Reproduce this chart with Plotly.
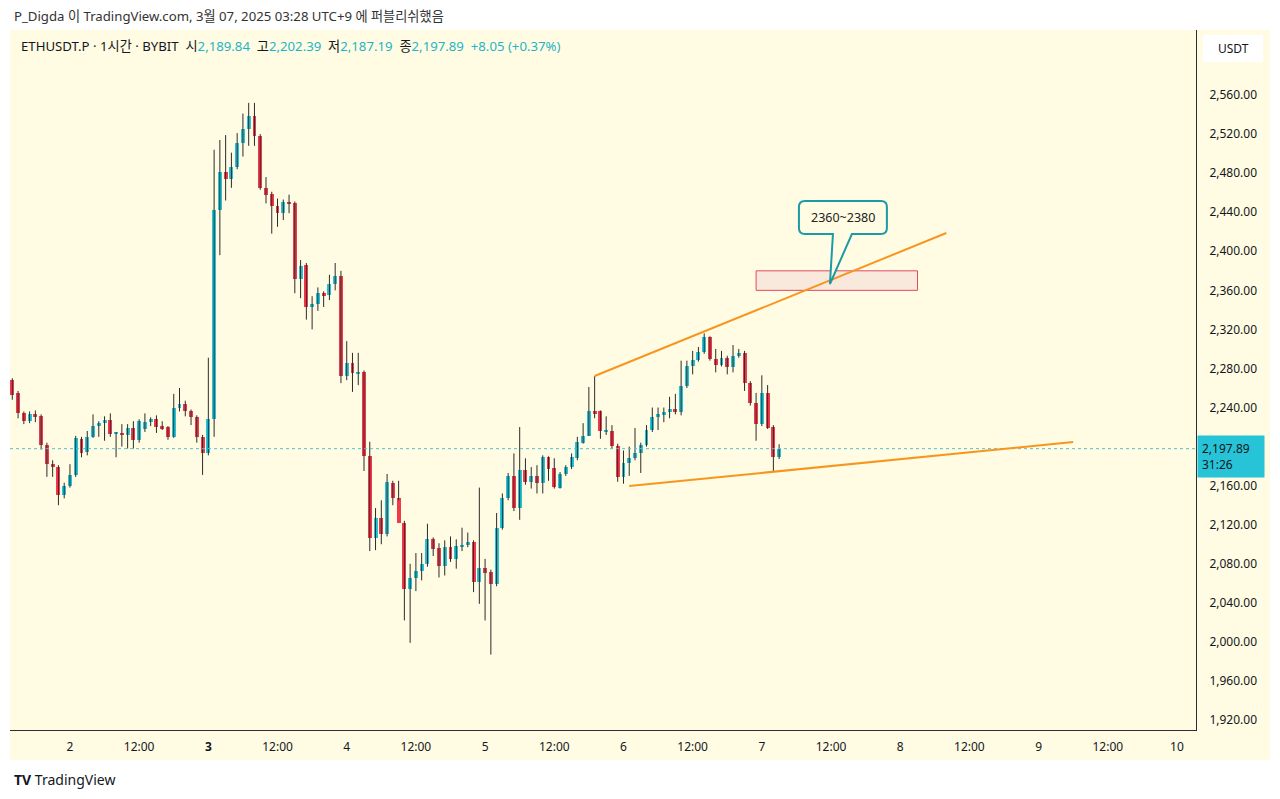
import plotly.graph_objects as go

# ---------------- data (ETHUSDT.P, 1h, BYBIT) ----------------
# candle position: hours since 2025-03-02 00:00 (UTC+9); first candle = Mar 1 14:00
hours = list(range(-10, 124))

opens = [2268, 2255, 2234, 2226, 2233, 2231, 2202, 2182, 2179, 2150,
         2160, 2171, 2208, 2194, 2210, 2221, 2224, 2227, 2213, 2214,
         2212, 2219, 2207, 2218, 2225, 2228, 2221, 2220, 2210, 2240,
         2244, 2236, 2230, 2210, 2193, 2228, 2442, 2481, 2474, 2486,
         2511, 2525, 2539, 2518, 2465, 2459, 2446, 2439, 2450, 2449,
         2372, 2386, 2343, 2346, 2357, 2355, 2366, 2375, 2272, 2286,
         2275, 2276, 2190, 2106, 2127, 2110, 2163, 2147, 2122, 2054,
         2065, 2073, 2080, 2105, 2096, 2078, 2097, 2085, 2098, 2099,
         2102, 2061, 2076, 2072, 2059, 2117, 2147, 2170, 2137, 2176,
         2164, 2170, 2163, 2189, 2178, 2158, 2172, 2179, 2188, 2204,
         2211, 2236, 2236, 2215, 2216, 2201, 2169, 2183, 2188, 2193,
         2202, 2217, 2230, 2233, 2235, 2239, 2235, 2262, 2283, 2289,
         2297, 2312, 2290, 2284, 2291, 2282, 2293, 2296, 2265, 2245,
         2223, 2255, 2220, 2189.84]
highs = [2270, 2257, 2236, 2236, 2237, 2233, 2204, 2186, 2181, 2163,
         2182, 2211, 2210, 2216, 2233, 2226, 2231, 2234, 2215, 2223,
         2223, 2226, 2228, 2234, 2230, 2232, 2226, 2221, 2254, 2260,
         2247, 2238, 2232, 2212, 2291, 2504, 2514, 2519, 2501, 2521,
         2541, 2552, 2552, 2520, 2476, 2461, 2454, 2453, 2458, 2451,
         2391, 2388, 2354, 2363, 2359, 2376, 2388, 2380, 2308, 2296,
         2296, 2278, 2205, 2137, 2145, 2172, 2165, 2165, 2124, 2080,
         2091, 2091, 2121, 2107, 2101, 2104, 2108, 2105, 2117, 2112,
         2104, 2158, 2085, 2074, 2132, 2152, 2173, 2193, 2220, 2188,
         2179, 2181, 2191, 2190, 2188, 2174, 2181, 2193, 2210, 2224,
         2261, 2272, 2237, 2231, 2222, 2203, 2196, 2200, 2219, 2204,
         2222, 2240, 2240, 2240, 2251, 2254, 2288, 2288, 2298, 2302,
         2316, 2313, 2300, 2298, 2293, 2304, 2300, 2298, 2267, 2255,
         2273, 2263, 2222, 2202.39]
lows = [2248, 2229, 2223, 2224, 2225, 2197, 2169, 2169, 2140, 2147,
        2158, 2169, 2189, 2191, 2209, 2210, 2206, 2210, 2189, 2200,
        2198, 2198, 2204, 2215, 2221, 2214, 2217, 2207, 2209, 2236,
        2231, 2222, 2204, 2171, 2191, 2210, 2396, 2452, 2465, 2484,
        2497, 2508, 2508, 2463, 2449, 2418, 2425, 2432, 2439, 2357,
        2352, 2330, 2320, 2339, 2343, 2350, 2360, 2265, 2268, 2256,
        2263, 2175, 2093, 2094, 2100, 2108, 2140, 2145, 2022, 1999,
        2052, 2063, 2077, 2088, 2066, 2068, 2082, 2075, 2093, 2097,
        2051, 2039, 2022, 1987, 2057, 2115, 2145, 2134, 2125, 2161,
        2157, 2152, 2152, 2165, 2157, 2157, 2170, 2177, 2186, 2203,
        2211, 2229, 2208, 2212, 2198, 2164, 2162, 2170, 2186, 2173,
        2200, 2215, 2217, 2225, 2229, 2233, 2232, 2260, 2274, 2287,
        2295, 2288, 2276, 2282, 2274, 2276, 2291, 2257, 2242, 2206,
        2221, 2218, 2174, 2187.19]
closes = [2253, 2234, 2226, 2233, 2230, 2202, 2182, 2179, 2150, 2160,
          2171, 2209, 2193, 2210, 2221, 2224, 2227, 2213, 2214, 2212,
          2219, 2207, 2226, 2225, 2228, 2220, 2219, 2210, 2240, 2244,
          2236, 2230, 2210, 2193, 2228, 2442, 2481, 2474, 2486, 2511,
          2525, 2539, 2518, 2465, 2458, 2446, 2439, 2450, 2449, 2372,
          2385, 2343, 2346, 2357, 2355, 2366, 2375, 2272, 2286, 2275,
          2276, 2190, 2106, 2127, 2110, 2164, 2147, 2122, 2054, 2065,
          2073, 2080, 2105, 2095, 2078, 2097, 2085, 2098, 2099, 2102,
          2061, 2076, 2071, 2059, 2117, 2147, 2170, 2137, 2176, 2164,
          2170, 2163, 2189, 2177, 2159, 2172, 2179, 2189, 2205, 2211,
          2236, 2234, 2216, 2217, 2201, 2169, 2183, 2188, 2193, 2202,
          2217, 2230, 2233, 2235, 2239, 2235, 2262, 2283, 2289, 2297,
          2312, 2290, 2284, 2291, 2282, 2293, 2296, 2265, 2245, 2223,
          2255, 2219, 2189.84, 2197.89]

tick_hours = [0, 12, 24, 36, 48, 60, 72, 84, 96, 108, 120, 132, 144, 156, 168, 180, 192]
tick_text = ["2", "12:00", "<b>3</b>", "12:00", "4", "12:00", "5", "12:00", "6",
             "12:00", "7", "12:00", "8", "12:00", "9", "12:00", "10"]
# 2,200.00 is hidden behind the last-price label in the reference
price_ticks = [1920, 1960, 2000, 2040, 2080, 2120, 2160, 2240, 2280,
               2320, 2360, 2400, 2440, 2480, 2520, 2560]

last_price = 2197.89
zone_prices = [2360, 2380]
zone_hours = [119, 147]
upper_line_hours = [91, 152]
upper_line_prices = [2272.3, 2418.7]
lower_line_hours = [97, 174]
lower_line_prices = [2159.6, 2204.7]
callout_text = "2360~2380"

# ---------------- styling ----------------
CREAM = "#fffce3"
UP = "#27c3d7"
DOWN = "#f03a4c"
WICK = "#2b2b2b"
TEXT = "#131722"
ORANGE = "#f7961e"
TEAL = "#1c9aa7"
FONT = "Noto Sans, Noto Sans CJK KR, sans-serif"

# plot area geometry in reference-image pixels
L, R, T, B = 10, 1196, 30, 730
W, H = 1280, 799
OFF = 8  # page body margin of the html page


def px_x(p):
    return (p - L) / (R - L)


def px_y(p):
    return (B - p) / (B - T)


body_base = [min(o, c) for o, c in zip(opens, closes)]
body_len = [max(abs(c - o), 1.1) for o, c in zip(opens, closes)]
body_col = [UP if c >= o else DOWN for o, c in zip(opens, closes)]

wx, wy = [], []
for h, hi, lo in zip(hours, highs, lows):
    wx += [h, h, None]
    wy += [lo, hi, None]

fig = go.Figure()
fig.add_trace(go.Scatter(x=wx, y=wy, mode="lines", line=dict(color=WICK, width=1),
                         hoverinfo="skip", showlegend=False))
fig.add_trace(go.Bar(x=hours, y=body_len, base=body_base, width=0.68,
                     marker=dict(color=body_col, line=dict(width=0)),
                     showlegend=False))

shapes = []
shapes.append(dict(type="rect", xref="paper", yref="paper", x0=px_x(10), x1=px_x(1270),
                   y0=px_y(760), y1=px_y(30), fillcolor=CREAM, line=dict(width=0), layer="below"))
shapes.append(dict(type="line", xref="paper", yref="y", x0=0, x1=1, y0=last_price, y1=last_price,
                   line=dict(color="#57c1cf", width=1, dash="dot")))
shapes.append(dict(type="rect", xref="x", yref="y", x0=zone_hours[0], x1=zone_hours[1],
                   y0=zone_prices[0], y1=zone_prices[1], fillcolor="#f9e8dc",
                   line=dict(color="#e04a5f", width=1)))
shapes.append(dict(type="line", xref="x", yref="y", x0=upper_line_hours[0], x1=upper_line_hours[1],
                   y0=upper_line_prices[0], y1=upper_line_prices[1], line=dict(color=ORANGE, width=2)))
shapes.append(dict(type="line", xref="x", yref="y", x0=lower_line_hours[0], x1=lower_line_hours[1],
                   y0=lower_line_prices[0], y1=lower_line_prices[1], line=dict(color=ORANGE, width=2)))

# callout bubble (in data coordinates)
hpp = 1 / 5.766
ppp = 1.024
bx0, bx1 = 126.43, 141.69
by0, by1 = 2417.7, 2451.5
rx, ry = 6 * hpp, 6 * ppp
ta, tb = 132.33, 135.62
tip_x, tip_y = 131.81, 2366.5
path = (f"M {bx0+rx},{by1} L {bx1-rx},{by1} Q {bx1},{by1} {bx1},{by1-ry} "
        f"L {bx1},{by0+ry} Q {bx1},{by0} {bx1-rx},{by0} L {tb},{by0} L {tip_x},{tip_y} "
        f"L {ta},{by0} L {bx0+rx},{by0} Q {bx0},{by0} {bx0},{by0+ry} "
        f"L {bx0},{by1-ry} Q {bx0},{by1} {bx0+rx},{by1} Z")
shapes.append(dict(type="path", xref="x", yref="y", path=path, fillcolor=CREAM,
                   line=dict(color=TEAL, width=2)))

shapes.append(dict(type="rect", xref="paper", yref="paper", x0=px_x(1203), x1=px_x(1263),
                   y0=px_y(62), y1=px_y(35), fillcolor="white", line=dict(width=0)))

c = "#1fb4c7"
sp = "&nbsp;&nbsp;"
header = (f"ETHUSDT.P · 1시간 · BYBIT{sp}시<span style='color:{c}'>2,189.84</span>{sp}"
          f"고<span style='color:{c}'>2,202.39</span>{sp}저<span style='color:{c}'>2,187.19</span>"
          f"{sp}종<span style='color:{c}'>2,197.89</span>{sp}"
          f"<span style='color:{c}'>+8.05 (+0.37%)</span>")

annotations = [
    dict(xref="paper", yref="paper", x=px_x(12), y=px_y(16), xanchor="left", yanchor="middle",
         text="P_Digda 이 TradingView.com, 3월 07, 2025 03:28 UTC+9 에 퍼블리쉬했음",
         showarrow=False, font=dict(family=FONT, size=13.2, color="#333333")),
    dict(xref="paper", yref="paper", x=px_x(19), y=px_y(46), xanchor="left", yanchor="middle",
         text=header, showarrow=False, font=dict(family=FONT, size=13.2, color=TEXT)),
    dict(xref="paper", yref="paper", x=px_x(1233), y=px_y(48.5), xanchor="center", yanchor="middle",
         text="USDT", showarrow=False, font=dict(family=FONT, size=12, color=TEXT)),
    dict(xref="paper", yref="y", x=px_x(1197), y=last_price, yshift=-8, xanchor="left",
         yanchor="middle", align="left", text="2,197.89<br>31:26", showarrow=False,
         width=58, bgcolor=UP, borderpad=4, font=dict(family=FONT, size=12, color=TEXT)),
    dict(xref="x", yref="y", x=(bx0 + bx1) / 2, y=(by0 + by1) / 2, text=callout_text,
         showarrow=False, font=dict(family=FONT, size=12.5, color="#222222")),
    dict(xref="paper", yref="paper", x=px_x(12), y=px_y(779), xanchor="left", yanchor="middle",
         text="<b>TV</b> TradingView", showarrow=False,
         font=dict(family=FONT, size=14, color=TEXT)),
]

fig.update_layout(
    width=W, height=H,
    margin=dict(l=L - OFF, r=W - (R - OFF), t=T - OFF, b=H - (B - OFF), pad=0),
    paper_bgcolor="white", plot_bgcolor=CREAM,
    showlegend=False, bargap=0,
    shapes=shapes, annotations=annotations,
    xaxis=dict(range=[-10.4, 195.3], tickvals=tick_hours, ticktext=tick_text,
               showgrid=False, zeroline=False, showline=True, linecolor="#2a2e39", linewidth=1,
               ticks="outside", ticklen=6, tickcolor="rgba(0,0,0,0)",
               tickfont=dict(family=FONT, size=12, color=TEXT), fixedrange=True),
    yaxis=dict(range=[1909.8, 2626.6], side="right", tickvals=price_ticks, tickformat=",.2f",
               showgrid=False, zeroline=False, showline=True, linecolor="#2a2e39", linewidth=1,
               ticks="outside", ticklen=10, tickcolor="rgba(0,0,0,0)",
               tickfont=dict(family=FONT, size=12, color=TEXT), fixedrange=True),
)

fig.write_html("out.html")
